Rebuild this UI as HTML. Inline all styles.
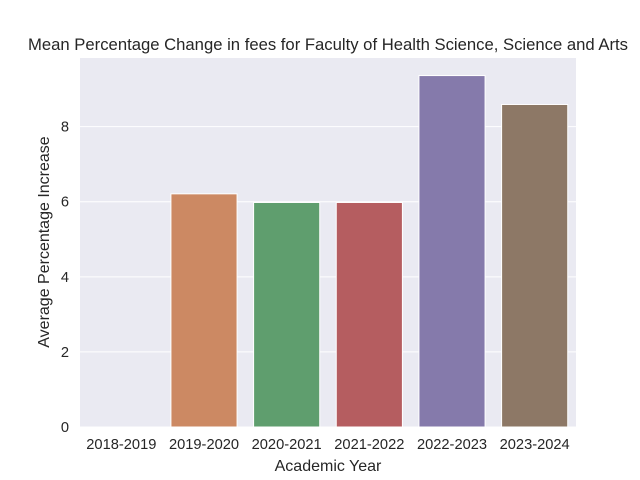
<!DOCTYPE html>
<html><head><meta charset="utf-8"><style>
body{margin:0;background:#fff;}
svg{display:block;font-family:"Liberation Sans",Arial,sans-serif;}
</style></head><body>
<svg id="chart" width="640" height="480">
<rect x="80" y="58" width="496" height="369" fill="#eaeaf2"/>
<g id="grid"></g><g id="bars"></g><g id="xt"></g><g id="yt"></g>
<text x="328" y="50" text-anchor="middle" font-size="16.67" fill="#262626">Mean Percentage Change in fees for Faculty of Health Science, Science and Arts</text>
<text x="328" y="471" text-anchor="middle" font-size="16" fill="#262626">Academic Year</text>
<text transform="translate(49,242) rotate(-90)" text-anchor="middle" font-size="16" fill="#262626">Average Percentage Increase</text>
</svg>
<script>
const categories=["2018-2019","2019-2020","2020-2021","2021-2022","2022-2023","2023-2024"];
const values=[0,6.21,5.98,5.98,9.36,8.59];
const colors=["#5975a4","#cc8963","#5f9e6e","#b55d60","#857aab","#8d7866"];
const yTicks=[0,2,4,6,8];
const NS="http://www.w3.org/2000/svg";
const L=80,R=576,T=58,B=427;
const ymax=Math.max(...values)*1.05;
const y=v=>B-(v/ymax)*(B-T);
const step=(R-L)/categories.length;
const x=i=>L+step*(i+0.5);
function mk(tag,attrs,parent){const e=document.createElementNS(NS,tag);for(const k in attrs)e.setAttribute(k,attrs[k]);document.getElementById(parent).appendChild(e);return e;}
yTicks.forEach(t=>{
 const g=mk('line',{x1:L,x2:R,y1:y(t),y2:y(t),stroke:'#fff','stroke-width':1},'grid');
 
 
 const tx=mk('text',{x:L-11,y:y(t)+5,'text-anchor':'end','font-size':14.67,fill:'#262626'},'yt');
 tx.textContent=t;
 
 
});
categories.forEach((c,i)=>{
 const w=step*0.8;
 const r=mk('rect',{x:x(i)-w/2,y:y(values[i]),width:w,height:B-y(values[i]),fill:colors[i],stroke:'#fff','stroke-width':1},'bars');
 
 
 const tx=mk('text',{x:x(i),y:B+22,'text-anchor':'middle','font-size':14.67,fill:'#262626'},'xt');
 tx.textContent=c;
 
 
});
</script>
</body></html>
